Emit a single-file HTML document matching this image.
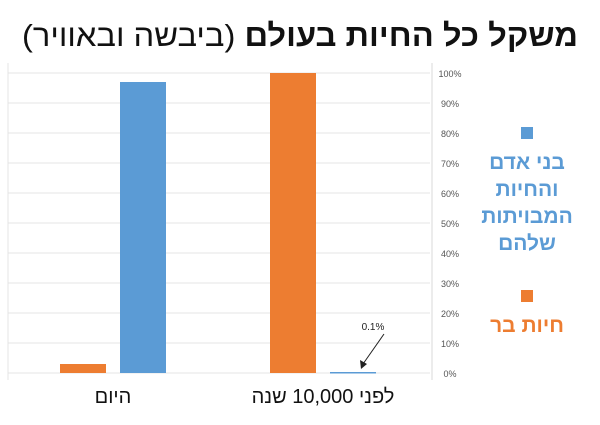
<!DOCTYPE html>
<html><head><meta charset="utf-8"><style>
body{margin:0;width:600px;height:420px;background:#fff;overflow:hidden;font-family:"Liberation Sans","Noto Sans CJK SC",sans-serif}
</style></head><body>
<svg width="600" height="420" xmlns="http://www.w3.org/2000/svg">
<text x="578" y="46" direction="rtl" text-anchor="start" font-size="31" fill="#111" textLength="556" lengthAdjust="spacingAndGlyphs"><tspan font-weight="bold">משקל כל החיות בעולם </tspan><tspan>(ביבשה ובאוויר)</tspan></text>
<g id="grid"></g><g id="bars"></g><g id="ylabels"></g>
<line x1="8" y1="63" x2="8" y2="380" stroke="#e4e4e4"/>
<line x1="432" y1="63" x2="432" y2="380" stroke="#d9d9d9"/>
<text x="373" y="330" font-size="10" fill="#222" text-anchor="middle">0.1%</text>
<line x1="384" y1="334" x2="363" y2="364" stroke="#222"/>
<polygon points="361,369 360,360 367,364" fill="#222"/>
<g id="cats"></g>
<rect x="521" y="127" width="12" height="12" fill="#5b9bd5"/>
<g font-size="21" font-weight="bold" fill="#5b9bd5" text-anchor="middle">
<text x="527" y="169">בני אדם</text><text x="527" y="196">והחיות</text><text x="527" y="223">המבויתות</text><text x="527" y="250">שלהם</text></g>
<rect x="521" y="290" width="12" height="12" fill="#ed7d31"/>
<text x="527" y="332" font-size="21" font-weight="bold" fill="#ed7d31" text-anchor="middle">חיות בר</text>
</svg>
<script>
const categories=["היום","לפני 10,000 שנה"];
const wildValues=[3,100];
const humanValues=[97,0.1];
const tickValues=[0,10,20,30,40,50,60,70,80,90,100];
const NS="http://www.w3.org/2000/svg";
const y=v=>373-v*3;
const groupX=i=>113+i*210;
function mk(t,a,p){const e=document.createElementNS(NS,t);for(const k in a)e.setAttribute(k,a[k]);document.getElementById(p).appendChild(e);return e;}
tickValues.forEach(t=>{
 const l=mk("line",{x1:8,x2:430,y1:y(t),y2:y(t),stroke:"#e4e4e4"},"grid");
 
 
 const tx=mk("text",{x:450,y:y(t)+4,"font-size":9,fill:"#555","text-anchor":"middle"},"ylabels");
 tx.textContent=t+"%";
 
 
});
categories.forEach((c,i)=>{
 const cx=groupX(i);
 const b1=mk("rect",{x:cx-53,width:46,y:y(wildValues[i]),height:373-y(wildValues[i]),fill:"#ed7d31"},"bars");
 
 
 const b2=mk("rect",{x:cx+7,width:46,y:Math.min(y(humanValues[i]),372),height:Math.max(373-y(humanValues[i]),1.5),fill:"#5b9bd5"},"bars");
 
 
 const t=mk("text",{x:cx,y:403,"font-size":20,fill:"#111","text-anchor":"middle",direction:"rtl"},"cats");
 t.textContent=c;
 
 
});
</script>
</body></html>
